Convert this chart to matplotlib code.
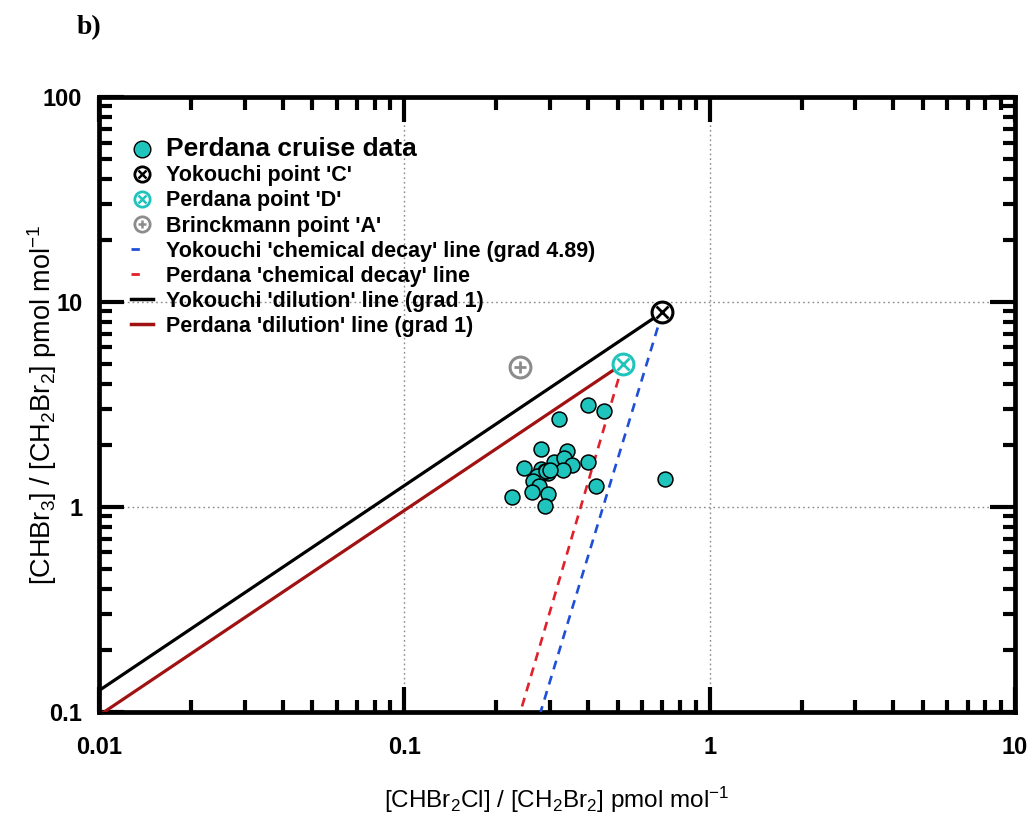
import matplotlib
matplotlib.use("Agg")
import matplotlib.pyplot as plt
from matplotlib.lines import Line2D
from matplotlib.legend_handler import HandlerTuple
from matplotlib.ticker import LogLocator, FixedLocator, FixedFormatter, NullFormatter
import numpy as np

plt.rcParams['font.family'] = ['Liberation Sans', 'DejaVu Sans']
plt.rcParams['mathtext.fontset'] = 'custom'
plt.rcParams['mathtext.rm'] = 'Liberation Sans'
plt.rcParams['mathtext.it'] = 'Liberation Sans:italic'
plt.rcParams['mathtext.bf'] = 'Liberation Sans:bold'

# Perdana cruise data (x = CHBr2Cl/CH2Br2, y = CHBr3/CH2Br2)
cruise_x = [0.40, 0.45, 0.32, 0.28, 0.34, 0.246, 0.31, 0.333, 0.355, 0.33, 0.40,
            0.281, 0.296, 0.288, 0.272, 0.264, 0.276, 0.261, 0.296, 0.226, 0.426,
            0.288, 0.715, 0.292, 0.300]
cruise_y = [3.15, 2.95, 2.68, 1.91, 1.87, 1.55, 1.66, 1.73, 1.60, 1.52, 1.65,
            1.53, 1.47, 1.49, 1.42, 1.34, 1.26, 1.19, 1.16, 1.12, 1.27,
            1.01, 1.37, 1.50, 1.52]

point_c = (0.70, 8.9)    # Yokouchi
point_d = (0.52, 5.0)    # Perdana
point_a = (0.24, 4.8)    # Brinckmann

yok_decay_grad = 4.89
perd_decay_end_x = 0.24  # red dashed line reaches y = 0.1 here

cyan = '#1fc4bd'
blue = '#1f4fd6'
red = '#e0202a'
darkred = '#a01212'
grey = '#8c8c8c'

fig = plt.figure(figsize=(10.32, 8.23), dpi=100)
ax = fig.add_axes([0.0959, 0.1349, 0.8876, 0.7472])
ax.set_xscale('log')
ax.set_yscale('log')
ax.set_xlim(0.01, 10)
ax.set_ylim(0.1, 100)

# dilution lines (gradient 1) from 0.01 up to the end points
xs = np.array([0.01, point_c[0]])
ax.plot(xs, point_c[1] * xs / point_c[0], color='black', lw=2.3, zorder=3)
xs = np.array([0.01, point_d[0]])
ax.plot(xs, point_d[1] * xs / point_d[0], color=darkred, lw=2.3, zorder=3)

# chemical decay lines
yok_end_x = point_c[0] * (0.1 / point_c[1]) ** (1 / yok_decay_grad)
ax.plot([point_c[0], yok_end_x], [point_c[1], 0.1], color=blue, lw=1.9,
        dashes=(3.4, 2.6), zorder=3)
ax.plot([point_d[0], perd_decay_end_x], [point_d[1], 0.1], color=red, lw=1.9,
        dashes=(3.4, 2.6), zorder=3)

ax.scatter(cruise_x, cruise_y, s=115, facecolor=cyan, edgecolor='black',
           linewidth=1.1, zorder=4)

# special points: open circle with a cross / plus
def special(pt, col, inner, size):
    ax.plot(*pt, marker='o', ms=size, mfc='white', mec=col, mew=2.2, zorder=5)
    ax.plot(*pt, marker=inner, ms=size * 0.62, mec=col, mew=2.0, zorder=6)

special(point_c, 'black', 'x', 15)
special(point_d, cyan, 'x', 15)
special(point_a, grey, '+', 15)

# axes styling
ax.xaxis.set_major_locator(FixedLocator([0.01, 0.1, 1, 10]))
ax.xaxis.set_major_formatter(FixedFormatter(['0.01', '0.1', '1', '10']))
ax.yaxis.set_major_locator(FixedLocator([0.1, 1, 10, 100]))
ax.yaxis.set_major_formatter(FixedFormatter(['0.1', '1', '10', '100']))
for axis in (ax.xaxis, ax.yaxis):
    axis.set_minor_locator(LogLocator(base=10, subs=np.arange(2, 10), numticks=20))
    axis.set_minor_formatter(NullFormatter())
ax.tick_params(which='both', direction='in', top=True, right=True)
ax.tick_params(which='major', length=18, width=3)
ax.tick_params(which='minor', length=9, width=3)
ax.tick_params(axis='x', which='major', pad=17)
ax.tick_params(axis='y', which='major', pad=12)
for lab in ax.get_xticklabels() + ax.get_yticklabels():
    lab.set_fontsize(17)
    lab.set_fontweight('bold')
for sp in ax.spines.values():
    sp.set_linewidth(3.4)
ax.grid(which='major', color='#8a8a8a', linestyle=(0, (1.2, 2.2)), lw=1.0)

ax.set_xlabel('[CHBr$_2$Cl] / [CH$_2$Br$_2$] pmol mol$^{-1}$', fontsize=17.5)
ax.xaxis.set_label_coords(0.5, -0.118)
ax.set_ylabel('[CHBr$_3$] / [CH$_2$Br$_2$] pmol mol$^{-1}$', fontsize=19.5)
ax.yaxis.set_label_coords(-0.044, 0.5)

fig.text(0.0746, 0.966, 'b)', fontsize=20, fontweight='bold',
         family='Liberation Serif', va='center')

# legend
h_data = Line2D([], [], ls='none', marker='o', ms=12, mfc=cyan, mec='black', mew=1)
def xh(col, inner):
    return (Line2D([], [], ls='none', marker='o', ms=11, mfc='white', mec=col, mew=2),
            Line2D([], [], ls='none', marker=inner, ms=6, mec=col, mew=1.8))
h_blue = Line2D([], [], color=blue, lw=2, dashes=(3, 20))
h_red = Line2D([], [], color=red, lw=2, dashes=(3, 20))
h_blk = Line2D([], [], color='black', lw=2.5)
h_drd = Line2D([], [], color=darkred, lw=2.5)
handles = [h_data, xh('black', 'x'), xh(cyan, 'x'), xh(grey, '+'),
           h_blue, h_red, h_blk, h_drd]
labels = ['Perdana cruise data', "Yokouchi point 'C'", "Perdana point 'D'",
          "Brinckmann point 'A'", "Yokouchi 'chemical decay' line (grad 4.89)",
          "Perdana 'chemical decay' line", "Yokouchi 'dilution' line (grad 1)",
          "Perdana 'dilution' line (grad 1)"]
leg = ax.legend(handles, labels, loc='upper left', bbox_to_anchor=(0.014, 0.966),
                frameon=False, handlelength=1.0, handletextpad=0.6,
                labelspacing=0.19, prop={'size': 15.5, 'weight': 'bold'},
                handler_map={tuple: HandlerTuple(ndivide=1, pad=0)})
leg.get_texts()[0].set_fontsize(19)

fig.savefig('out.png', dpi=100)
